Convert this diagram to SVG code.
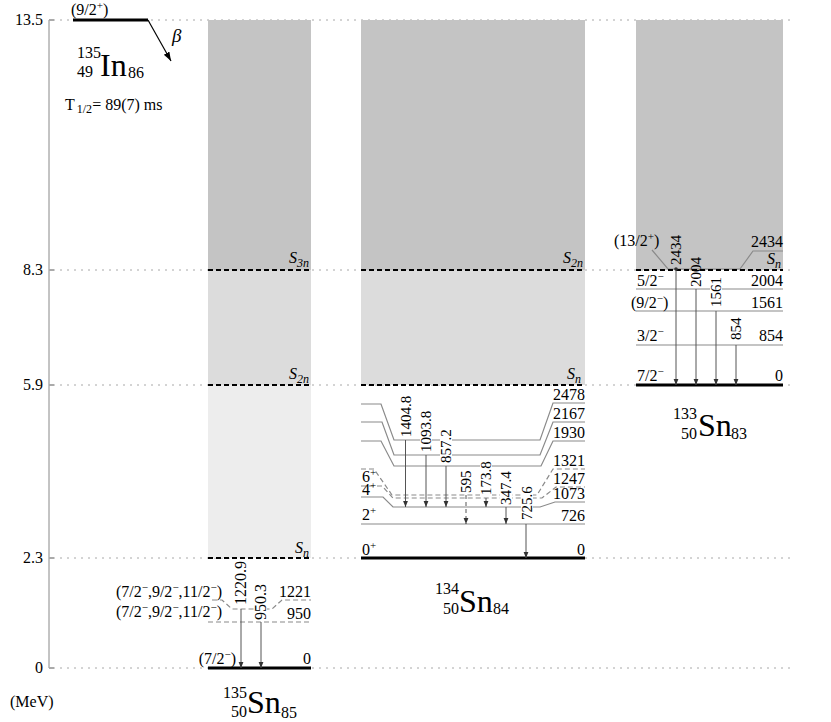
<svg xmlns="http://www.w3.org/2000/svg" width="831" height="722" viewBox="0 0 831 722" font-family="Times New Roman, Liberation Serif, serif">
<defs>
<style>
.grid{stroke:#a8a8a8;stroke-width:1;stroke-dasharray:2 5;fill:none}
.lvl{stroke:#8a8a8a;stroke-width:1.2;fill:none}
.lvd{stroke:#8a8a8a;stroke-width:1.2;fill:none;stroke-dasharray:5 3}
.gs{stroke:#000;stroke-width:3}
.thr{stroke:#000;stroke-width:2;stroke-dasharray:5 3}
.gam{stroke:#555;stroke-width:1;marker-end:url(#ah)}
.gamd{stroke:#555;stroke-width:1;stroke-dasharray:4 3;marker-end:url(#ah)}
.bg{fill:#fff}
</style>
<marker id="ah" viewBox="0 0 10 10" refX="10" refY="5" markerWidth="6" markerHeight="6" markerUnits="userSpaceOnUse" orient="auto"><path d="M0,1 L10,5 L0,9 z" fill="#333"/></marker>
<marker id="ahb" viewBox="0 0 10 10" refX="10" refY="5" markerWidth="9" markerHeight="9" markerUnits="userSpaceOnUse" orient="auto"><path d="M0,1.5 L10,5 L0,8.5 z" fill="#000"/></marker>
</defs>
<rect width="831" height="722" fill="#fff"/>

<g id="axis">
<path class="grid" d="M53,20H792M53,270H792M53,385H792M53,558H792M53,668H792"/>
<line x1="49" y1="20" x2="49" y2="668" stroke="#888" stroke-width="1"/>
<path d="M49,20H54M49,270H54M49,385H54M49,558H54M49,668H54" stroke="#aaa" stroke-width="2"/>
<text x="43" y="25" text-anchor="end" font-family="Times New Roman, Liberation Serif, serif" font-size="16">13.5</text>
<text x="43" y="275" text-anchor="end" font-family="Times New Roman, Liberation Serif, serif" font-size="16">8.3</text>
<text x="43" y="390" text-anchor="end" font-family="Times New Roman, Liberation Serif, serif" font-size="16">5.9</text>
<text x="43" y="563" text-anchor="end" font-family="Times New Roman, Liberation Serif, serif" font-size="16">2.3</text>
<text x="43" y="673" text-anchor="end" font-family="Times New Roman, Liberation Serif, serif" font-size="16">0</text>
<text x="10" y="707" font-family="Times New Roman, Liberation Serif, serif" font-size="16">(MeV)</text>
</g>

<g id="shading">
<rect x="208" y="20" width="103" height="250" fill="#c4c4c4"/>
<rect x="208" y="270" width="103" height="115" fill="#dcdcdc"/>
<rect x="208" y="385" width="103" height="173" fill="#ededed"/>
<rect x="361" y="20" width="224" height="250" fill="#c4c4c4"/>
<rect x="361" y="270" width="224" height="115" fill="#dcdcdc"/>
<rect x="636" y="20" width="147" height="250" fill="#c4c4c4"/>
</g>

<g id="In135">
<line x1="73" y1="20" x2="148" y2="20" class="gs"/>
<text x="71" y="15" font-family="Times New Roman, Liberation Serif, serif" font-size="16">(9/2<tspan font-size="11" dy="-6">+</tspan><tspan dy="6">)</tspan></text>
<text x="77" y="58" font-family="Times New Roman, Liberation Serif, serif" font-size="16">135</text>
<text x="77" y="77" font-family="Times New Roman, Liberation Serif, serif" font-size="16">49</text>
<text x="100" y="76" font-family="Times New Roman, Liberation Serif, serif" font-size="32">In</text>
<text x="128" y="78" font-family="Times New Roman, Liberation Serif, serif" font-size="16">86</text>
<text x="65" y="110" font-family="Times New Roman, Liberation Serif, serif" font-size="16">T<tspan font-size="12" dx="2" dy="3">1/2</tspan><tspan dy="-3">= 89(7) ms</tspan></text>
</g>

<g id="connectors">
<line x1="148" y1="20" x2="171" y2="61" stroke="#000" stroke-width="1.2" marker-end="url(#ahb)"/>
<text x="172" y="42" font-style="italic" font-size="19" font-family="Times New Roman, Liberation Serif, serif">β</text>
</g>

<g id="Sn135" font-family="Times New Roman, Liberation Serif, serif" font-size="16">
<line x1="208" y1="270" x2="311" y2="270" class="thr"/>
<line x1="208" y1="385" x2="311" y2="385" class="thr"/>
<line x1="208" y1="558" x2="311" y2="558" class="thr"/>
<text x="309" y="263" text-anchor="end" font-style="italic" font-family="Times New Roman, Liberation Serif, serif" font-size="16">S<tspan font-size="12" dy="4">3n</tspan></text>
<text x="309" y="379" text-anchor="end" font-style="italic" font-family="Times New Roman, Liberation Serif, serif" font-size="16">S<tspan font-size="12" dy="4">2n</tspan></text>
<text x="309" y="553" text-anchor="end" font-style="italic" font-family="Times New Roman, Liberation Serif, serif" font-size="16">S<tspan font-size="12" dy="4">n</tspan></text>
<path class="lvd" d="M212,600H222L232,609H272L282,600H311"/>
<path class="lvd" d="M208,622H311"/>
<line x1="208" y1="668" x2="311" y2="668" class="gs"/>
<text x="222" y="597" text-anchor="end" font-family="Times New Roman, Liberation Serif, serif" font-size="16">(7/2<tspan font-size="11" dy="-6">−</tspan><tspan dy="6">,9/2</tspan><tspan font-size="11" dy="-6">−</tspan><tspan dy="6">,11/2</tspan><tspan font-size="11" dy="-6">−</tspan><tspan dy="6">)</tspan></text>
<text x="222" y="617" text-anchor="end" font-family="Times New Roman, Liberation Serif, serif" font-size="16">(7/2<tspan font-size="11" dy="-6">−</tspan><tspan dy="6">,9/2</tspan><tspan font-size="11" dy="-6">−</tspan><tspan dy="6">,11/2</tspan><tspan font-size="11" dy="-6">−</tspan><tspan dy="6">)</tspan></text>
<text x="236" y="664" text-anchor="end" font-family="Times New Roman, Liberation Serif, serif" font-size="16">(7/2<tspan font-size="11" dy="-6">−</tspan><tspan dy="6">)</tspan></text>
<text x="311" y="597" text-anchor="end" font-family="Times New Roman, Liberation Serif, serif" font-size="16">1221</text>
<text x="311" y="619" text-anchor="end" font-family="Times New Roman, Liberation Serif, serif" font-size="16">950</text>
<text x="311" y="664" text-anchor="end" font-family="Times New Roman, Liberation Serif, serif" font-size="16">0</text>
<line class="gam" x1="241" y1="609" x2="241" y2="668"/>
<line class="gam" x1="261" y1="622" x2="261" y2="668"/>
<rect class="bg" x="235" y="561" width="12" height="45"/>
<text transform="translate(246,605) rotate(-90)" font-family="Times New Roman, Liberation Serif, serif" font-size="16">1220.9</text>
<rect class="bg" x="255" y="584" width="12" height="37"/>
<text transform="translate(266,620) rotate(-90)" font-family="Times New Roman, Liberation Serif, serif" font-size="16">950.3</text>
<text x="247" y="698" text-anchor="end" font-family="Times New Roman, Liberation Serif, serif" font-size="16">135</text>
<text x="247" y="717" text-anchor="end" font-family="Times New Roman, Liberation Serif, serif" font-size="16">50</text>
<text x="247" y="713" font-family="Times New Roman, Liberation Serif, serif" font-size="32">Sn</text>
<text x="281" y="718" font-family="Times New Roman, Liberation Serif, serif" font-size="16">85</text>
</g>

<g id="Sn134">
<line x1="361" y1="270" x2="585" y2="270" class="thr"/>
<line x1="361" y1="385" x2="585" y2="385" class="thr"/>
<text x="583" y="263" text-anchor="end" font-style="italic" font-family="Times New Roman, Liberation Serif, serif" font-size="16">S<tspan font-size="12" dy="4">2n</tspan></text>
<text x="581" y="379" text-anchor="end" font-style="italic" font-family="Times New Roman, Liberation Serif, serif" font-size="16">S<tspan font-size="12" dy="4">n</tspan></text>
<path class="lvl" d="M361,404H381L394,440H540L553,403H585"/>
<path class="lvl" d="M361,422H382L394,455H540L553,422H585"/>
<path class="lvl" d="M361,441H381L394,466H541L553,441H585"/>
<path class="lvd" d="M361,469H374L392,495H537L553,469H585"/>
<path class="lvd" d="M361,486H382L393,498H542L556,487H585"/>
<path class="lvl" d="M361,497H383L393,507H540L555,502H585"/>
<path class="lvl" d="M361,524H585"/>
<line x1="361" y1="558" x2="585" y2="558" class="gs"/>
<text x="362" y="482" font-family="Times New Roman, Liberation Serif, serif" font-size="16">6<tspan font-size="11" dy="-6">+</tspan></text>
<text x="362" y="495" font-family="Times New Roman, Liberation Serif, serif" font-size="16">4<tspan font-size="11" dy="-6">+</tspan></text>
<text x="362" y="520" font-family="Times New Roman, Liberation Serif, serif" font-size="16">2<tspan font-size="11" dy="-6">+</tspan></text>
<text x="362" y="555" font-family="Times New Roman, Liberation Serif, serif" font-size="16">0<tspan font-size="11" dy="-6">+</tspan></text>
<text x="585" y="400" text-anchor="end" font-family="Times New Roman, Liberation Serif, serif" font-size="16">2478</text>
<text x="585" y="419" text-anchor="end" font-family="Times New Roman, Liberation Serif, serif" font-size="16">2167</text>
<text x="585" y="438" text-anchor="end" font-family="Times New Roman, Liberation Serif, serif" font-size="16">1930</text>
<text x="585" y="466" text-anchor="end" font-family="Times New Roman, Liberation Serif, serif" font-size="16">1321</text>
<text x="585" y="484" text-anchor="end" font-family="Times New Roman, Liberation Serif, serif" font-size="16">1247</text>
<text x="585" y="499" text-anchor="end" font-family="Times New Roman, Liberation Serif, serif" font-size="16">1073</text>
<text x="585" y="521" text-anchor="end" font-family="Times New Roman, Liberation Serif, serif" font-size="16">726</text>
<text x="585" y="555" text-anchor="end" font-family="Times New Roman, Liberation Serif, serif" font-size="16">0</text>
<line class="gam" x1="405.5" y1="440" x2="405.5" y2="507"/>
<line class="gam" x1="426" y1="455" x2="426" y2="507"/>
<line class="gam" x1="446" y1="466" x2="446" y2="507"/>
<line class="gamd" x1="466" y1="495" x2="466" y2="524"/>
<line class="gam" x1="486" y1="498" x2="486" y2="507"/>
<line class="gam" x1="506" y1="507" x2="506" y2="524"/>
<line class="gam" x1="526" y1="524" x2="526" y2="558"/>
<rect class="bg" x="399.5" y="393" width="12" height="45"/>
<text transform="translate(410.5,437) rotate(-90)" font-family="Times New Roman, Liberation Serif, serif" font-size="15">1404.8</text>
<rect class="bg" x="420" y="409" width="12" height="44"/>
<text transform="translate(431,452) rotate(-90)" font-family="Times New Roman, Liberation Serif, serif" font-size="15">1093.8</text>
<rect class="bg" x="440" y="428" width="12" height="36"/>
<text transform="translate(451,463) rotate(-90)" font-family="Times New Roman, Liberation Serif, serif" font-size="15">857.2</text>
<rect class="bg" x="460" y="469" width="12" height="25"/>
<text transform="translate(471,493) rotate(-90)" font-family="Times New Roman, Liberation Serif, serif" font-size="15">595</text>
<rect class="bg" x="480" y="460" width="12" height="36"/>
<text transform="translate(491,495) rotate(-90)" font-family="Times New Roman, Liberation Serif, serif" font-size="15">173.8</text>
<rect class="bg" x="500" y="470" width="12" height="36"/>
<text transform="translate(511,505) rotate(-90)" font-family="Times New Roman, Liberation Serif, serif" font-size="15">347.4</text>
<rect class="bg" x="521" y="485" width="12" height="36"/>
<text transform="translate(532,520) rotate(-90)" font-family="Times New Roman, Liberation Serif, serif" font-size="15">725.6</text>
<text x="459" y="594" text-anchor="end" font-family="Times New Roman, Liberation Serif, serif" font-size="16">134</text>
<text x="459" y="614" text-anchor="end" font-family="Times New Roman, Liberation Serif, serif" font-size="16">50</text>
<text x="459" y="612" font-family="Times New Roman, Liberation Serif, serif" font-size="32">Sn</text>
<text x="493" y="614" font-family="Times New Roman, Liberation Serif, serif" font-size="16">84</text>
</g>

<g id="Sn133">
<path class="lvl" d="M652,250L668,269H740L753,251H783"/>
<line x1="636" y1="270" x2="783" y2="270" class="thr"/>
<text x="781" y="264" text-anchor="end" font-style="italic" font-family="Times New Roman, Liberation Serif, serif" font-size="16">S<tspan font-size="12" dy="4">n</tspan></text>
<path class="lvl" d="M636,289H783M636,311H783M636,345H783"/>
<line x1="636" y1="385" x2="783" y2="385" class="gs"/>
<text x="614" y="246" font-family="Times New Roman, Liberation Serif, serif" font-size="16">(13/2<tspan font-size="11" dy="-6">+</tspan><tspan dy="6">)</tspan></text>
<text x="637" y="286" font-family="Times New Roman, Liberation Serif, serif" font-size="16">5/2<tspan font-size="11" dy="-6">−</tspan></text>
<text x="631" y="308" font-family="Times New Roman, Liberation Serif, serif" font-size="16">(9/2<tspan font-size="11" dy="-6">−</tspan><tspan dy="6">)</tspan></text>
<text x="637" y="341" font-family="Times New Roman, Liberation Serif, serif" font-size="16">3/2<tspan font-size="11" dy="-6">−</tspan></text>
<text x="637" y="381" font-family="Times New Roman, Liberation Serif, serif" font-size="16">7/2<tspan font-size="11" dy="-6">−</tspan></text>
<text x="783" y="247" text-anchor="end" font-family="Times New Roman, Liberation Serif, serif" font-size="16">2434</text>
<text x="783" y="286" text-anchor="end" font-family="Times New Roman, Liberation Serif, serif" font-size="16">2004</text>
<text x="783" y="308" text-anchor="end" font-family="Times New Roman, Liberation Serif, serif" font-size="16">1561</text>
<text x="783" y="341" text-anchor="end" font-family="Times New Roman, Liberation Serif, serif" font-size="16">854</text>
<text x="783" y="381" text-anchor="end" font-family="Times New Roman, Liberation Serif, serif" font-size="16">0</text>
<line class="gam" x1="676" y1="269" x2="676" y2="385"/>
<line class="gam" x1="696" y1="289" x2="696" y2="385"/>
<line class="gam" x1="716" y1="311" x2="716" y2="385"/>
<line class="gam" x1="736" y1="345" x2="736" y2="385"/>
<circle cx="676" cy="269" r="1.8" fill="#333"/>
<text transform="translate(681,265) rotate(-90)" font-family="Times New Roman, Liberation Serif, serif" font-size="15">2434</text>
<text transform="translate(701,287) rotate(-90)" font-family="Times New Roman, Liberation Serif, serif" font-size="15">2004</text>
<rect class="bg" x="710" y="277" width="12" height="31"/>
<text transform="translate(721,307) rotate(-90)" font-family="Times New Roman, Liberation Serif, serif" font-size="15">1561</text>
<rect class="bg" x="730" y="317" width="12" height="24"/>
<text transform="translate(741,340) rotate(-90)" font-family="Times New Roman, Liberation Serif, serif" font-size="15">854</text>
<text x="697" y="419" text-anchor="end" font-family="Times New Roman, Liberation Serif, serif" font-size="16">133</text>
<text x="697" y="439" text-anchor="end" font-family="Times New Roman, Liberation Serif, serif" font-size="16">50</text>
<text x="698" y="436" font-family="Times New Roman, Liberation Serif, serif" font-size="32">Sn</text>
<text x="731" y="439" font-family="Times New Roman, Liberation Serif, serif" font-size="16">83</text>
</g>
</svg>
